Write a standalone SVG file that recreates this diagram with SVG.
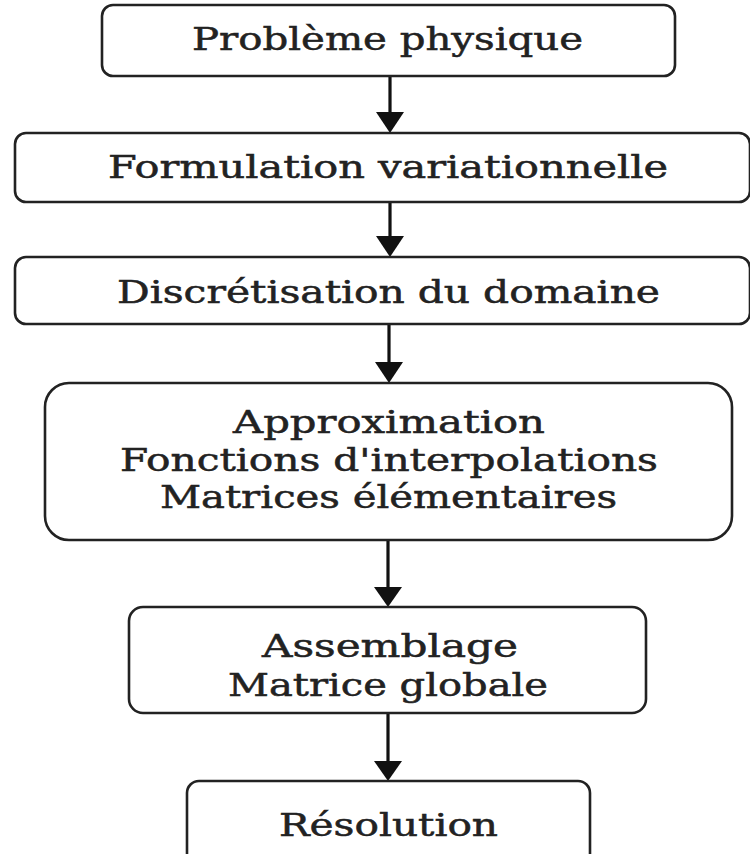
<svg xmlns="http://www.w3.org/2000/svg" width="750" height="854" viewBox="0 0 750 854">
  <defs>
    <style>
      .box { fill: #ffffff; stroke: #222222; stroke-width: 2.6; }
      .lbl { font-family: "DejaVu Serif", "Liberation Serif", serif; font-size: 31px; fill: #222222; stroke: #222222; stroke-width: 0.5; text-anchor: start; }
      .edge { stroke: #111111; stroke-width: 3.2; fill: none; }
      .head { fill: #111111; }
    </style>
  </defs>
  <rect width="750" height="854" fill="#ffffff"/>

  <g id="connectors">
    <line class="edge" x1="390" y1="76" x2="390" y2="118"/>
    <polygon class="head" points="376,112 404,112 390,133"/>
    <line class="edge" x1="390" y1="202" x2="390" y2="242"/>
    <polygon class="head" points="376,236 404,236 390,257"/>
    <line class="edge" x1="389" y1="324" x2="389" y2="368"/>
    <polygon class="head" points="375,362 403,362 389,383"/>
    <line class="edge" x1="388" y1="540" x2="388" y2="592"/>
    <polygon class="head" points="374,587 402,587 388,607"/>
    <line class="edge" x1="388" y1="713" x2="388" y2="766"/>
    <polygon class="head" points="374,761 402,761 388,781"/>
  </g>

  <g id="n1">
    <rect class="box" x="102" y="5" width="573" height="71" rx="11"/>
    <text class="lbl" x="192" y="50" textLength="391" lengthAdjust="spacingAndGlyphs">Problème physique</text>
  </g>
  <g id="n2">
    <rect class="box" x="15" y="133" width="735" height="69" rx="11"/>
    <text class="lbl" x="108" y="178" textLength="560" lengthAdjust="spacingAndGlyphs">Formulation variationnelle</text>
  </g>
  <g id="n3">
    <rect class="box" x="15" y="257" width="735" height="67" rx="11"/>
    <text class="lbl" x="117" y="303" textLength="543" lengthAdjust="spacingAndGlyphs">Discrétisation du domaine</text>
  </g>
  <g id="n4">
    <rect class="box" x="45" y="383" width="687" height="157" rx="24"/>
    <text class="lbl" x="233" y="433" textLength="312" lengthAdjust="spacingAndGlyphs">Approximation</text>
    <text class="lbl" x="120" y="471" textLength="538" lengthAdjust="spacingAndGlyphs">Fonctions d'interpolations</text>
    <text class="lbl" x="160" y="508" textLength="457" lengthAdjust="spacingAndGlyphs">Matrices élémentaires</text>
  </g>
  <g id="n5">
    <rect class="box" x="129" y="607" width="517" height="106" rx="14"/>
    <text class="lbl" x="262" y="657" textLength="256" lengthAdjust="spacingAndGlyphs">Assemblage</text>
    <text class="lbl" x="228" y="696" textLength="320" lengthAdjust="spacingAndGlyphs">Matrice globale</text>
  </g>
  <g id="n6">
    <rect class="box" x="187" y="781" width="403" height="110" rx="12"/>
    <text class="lbl" x="279" y="836" textLength="219" lengthAdjust="spacingAndGlyphs">Résolution</text>
  </g>
</svg>
